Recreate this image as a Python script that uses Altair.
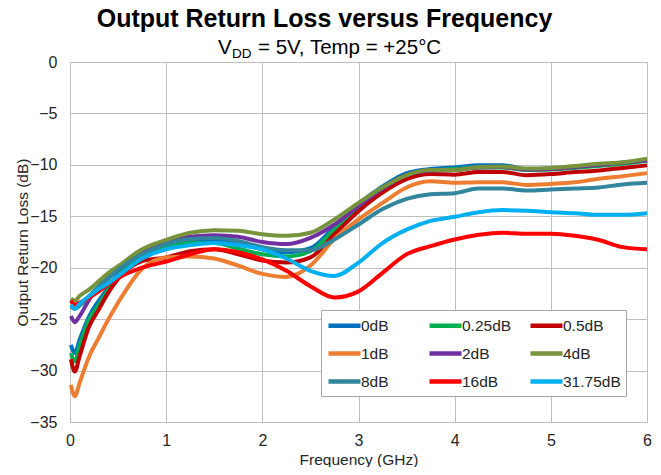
import altair as alt
import pandas as pd

# ---- data ----
freq = [0.01, 0.05, 0.1, 0.2, 0.3, 0.4, 0.5, 0.75, 1.0, 1.25, 1.5, 1.75, 2.0, 2.25,
        2.5, 2.75, 3.0, 3.25, 3.5, 3.75, 4.0, 4.25, 4.5, 4.75, 5.0, 5.25, 5.5, 5.75, 6.0]

s_0dB = [-27.5, -28.3, -27.0, -24.7, -23.2, -21.9, -20.6, -18.9, -17.95, -17.4, -17.3, -17.6, -18.2, -18.5,
         -18.1, -16.0, -13.8, -12.1, -10.8, -10.4, -10.25, -10.05, -10.05, -10.4, -10.35, -10.2, -10.0, -9.8, -9.55]
s_025dB = [-28.3, -29.1, -27.6, -25.0, -23.6, -22.1, -20.8, -19.0, -18.05, -17.6, -17.6, -18.15, -18.7, -18.9,
           -18.4, -16.3, -14.2, -12.4, -11.0, -10.6, -10.4, -10.25, -10.25, -10.5, -10.45, -10.3, -10.1, -9.9, -9.6]
s_05dB = [-28.9, -30.1, -28.6, -25.7, -24.05, -22.4, -21.1, -19.35, -19.0, -18.4, -18.2, -18.7, -19.3, -19.5,
          -19.0, -16.75, -14.5, -12.7, -11.4, -10.9, -10.95, -10.7, -10.7, -11.0, -10.9, -10.7, -10.55, -10.3, -10.05]
s_1dB = [-31.4, -32.5, -31.2, -28.6, -26.8, -25.0, -23.4, -20.1, -19.0, -18.9, -19.1, -19.8, -20.6, -20.9,
         -19.8, -17.2, -15.3, -13.7, -12.2, -11.6, -11.75, -11.7, -11.7, -11.95, -11.85, -11.7, -11.35, -11.1, -10.8]
s_2dB = [-24.7, -25.3, -24.7, -23.1, -21.8, -21.0, -20.2, -18.6, -17.6, -17.0, -16.85, -17.0, -17.5, -17.7,
         -17.1, -15.8, -14.0, -12.3, -11.0, -10.55, -10.5, -10.25, -10.2, -10.45, -10.4, -10.2, -10.0, -9.8, -9.55]
s_4dB = [-23.0, -23.2, -22.75, -22.1, -21.3, -20.5, -19.85, -18.2, -17.3, -16.6, -16.35, -16.4, -16.75, -16.9,
         -16.6, -15.3, -13.7, -12.2, -11.0, -10.5, -10.5, -10.2, -10.15, -10.35, -10.3, -10.1, -9.9, -9.75, -9.4]
s_8dB = [-23.8, -24.0, -23.7, -22.75, -21.8, -21.0, -20.2, -18.7, -17.7, -17.2, -17.1, -17.4, -18.0, -18.3,
         -18.3, -17.25, -15.8, -14.3, -13.3, -12.85, -12.75, -12.3, -12.3, -12.5, -12.4, -12.3, -12.2, -11.9, -11.75]
s_16dB = [-23.2, -23.6, -23.4, -22.9, -22.3, -21.6, -21.0, -20.0, -19.4, -18.7, -18.2, -18.5, -19.2, -20.3,
          -21.8, -22.9, -22.3, -20.5, -18.7, -17.9, -17.25, -16.8, -16.6, -16.7, -16.7, -16.9, -17.3, -18.0, -18.2]
s_3175dB = [-23.6, -24.0, -23.5, -22.75, -22.05, -21.5, -20.8, -19.1, -18.2, -17.8, -17.6, -17.8, -18.2, -19.1,
            -20.3, -20.8, -19.5, -17.6, -16.3, -15.45, -15.05, -14.6, -14.4, -14.45, -14.6, -14.7, -14.85, -14.85, -14.7]

names = ["0dB", "0.25dB", "0.5dB", "1dB", "2dB", "4dB", "8dB", "16dB", "31.75dB"]
colors = ["#0070C0", "#00B050", "#C00000", "#ED7D31", "#7030A0", "#77933C", "#31859C", "#FF0000", "#00B0F0"]
series = [s_0dB, s_025dB, s_05dB, s_1dB, s_2dB, s_4dB, s_8dB, s_16dB, s_3175dB]

x_ticks = [0, 1, 2, 3, 4, 5, 6]
y_ticks = [-35, -30, -25, -20, -15, -10, -5, 0]

title_text = "Output Return Loss versus Frequency"
sub_v = "V"
sub_dd = "DD"
sub_rest = "= 5V, Temp = +25°C"
x_title = "Frequency (GHz)"
y_title = "Output Return Loss (dB)"

FONT = "Liberation Sans"
GRID = "#BFBFBF"

rows = []
for n, s in zip(names, series):
    for f, v in zip(freq, s):
        rows.append({"f": f, "v": v, "series": n})
df = pd.DataFrame(rows)

x_enc = alt.X("f:Q", scale=alt.Scale(domain=[0, 6], nice=False, zero=False),
              axis=alt.Axis(values=x_ticks, title=x_title, format="d", grid=True,
                            gridColor=GRID, domainColor=GRID, ticks=False,
                            labelFont=FONT, labelFontSize=16, labelColor="#262626",
                            labelPadding=10, labelFlush=False,
                            titleFont=FONT, titleFontSize=15.5, titleFontWeight="normal",
                            titleColor="#262626", titleX=288.5, titleY=37,
                            titleBaseline="middle", titleAlign="center"))
y_enc = alt.Y("v:Q", scale=alt.Scale(domain=[-35, 0], nice=False, zero=False),
              axis=alt.Axis(values=y_ticks, title=y_title, format="d", grid=True,
                            gridColor=GRID, domainColor=GRID, ticks=False,
                            labelFont=FONT, labelFontSize=16, labelColor="#262626",
                            labelPadding=13, labelFlush=False,
                            titleFont=FONT, titleFontSize=15.5, titleFontWeight="normal",
                            titleColor="#262626", titleX=-48, titleY=180, titleAngle=270,
                            titleBaseline="middle", titleAlign="center"))
color_enc = alt.Color("series:N", scale=alt.Scale(domain=names, range=colors),
                      legend=alt.Legend(title=None, orient="none", legendX=251, legendY=248,
                                        direction="horizontal", columns=3, gridAlign="all",
                                        symbolType="M-1,0H3", symbolSize=256,
                                        symbolStrokeWidth=4.5,
                                        labelFont=FONT, labelFontSize=15.5, labelColor="#262626",
                                        labelOffset=14, rowPadding=8, columnPadding=1,
                                        padding=5, strokeColor="#A6A6A6", fillColor="white",
                                        labelLimit=200))

layers = []
for n in names:
    layers.append(
        alt.Chart(df).transform_filter(alt.datum.series == n)
        .mark_line(strokeWidth=4, interpolate="monotone")
        .encode(x=x_enc, y=y_enc, color=color_enc)
    )

text_df = pd.DataFrame({"title": [title_text], "v": [sub_v], "dd": [sub_dd], "rest": [sub_rest]})
title_mark = alt.Chart(text_df).mark_text(font=FONT, fontSize=25, fontWeight="bold", align="center",
                                           baseline="alphabetic", color="#000000").encode(
    text="title:N", x=alt.value(254.5), y=alt.value(-35))
sub1 = alt.Chart(text_df).mark_text(font=FONT, fontSize=20.5, align="left",
                                     baseline="alphabetic", color="#000000").encode(
    text="v:N", x=alt.value(148), y=alt.value(-8))
sub2 = alt.Chart(text_df).mark_text(font=FONT, fontSize=13.5, align="left",
                                     baseline="alphabetic", color="#000000").encode(
    text="dd:N", x=alt.value(162), y=alt.value(-4))
sub3 = alt.Chart(text_df).mark_text(font=FONT, fontSize=20.5, align="left",
                                     baseline="alphabetic", color="#000000").encode(
    text="rest:N", x=alt.value(188), y=alt.value(-8))

chart = alt.layer(*layers, title_mark, sub1, sub2, sub3).properties(
    width=577, height=360,
    autosize=alt.AutoSizeParams(type="none"),
    padding={"left": 62, "top": 54, "right": 6, "bottom": 45},
).configure_view(stroke=GRID).configure(background="white")

chart.save("out.html", embed_options={"renderer": "svg", "actions": False})
